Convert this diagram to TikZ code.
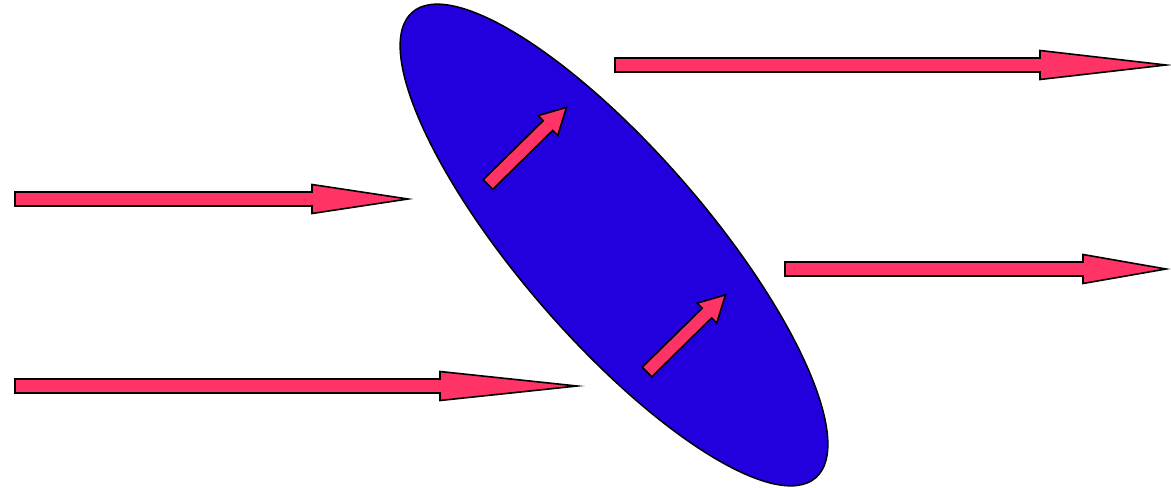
\documentclass[tikz,border=0pt]{standalone}
\usetikzlibrary{shapes.geometric}
\definecolor{lensblue}{HTML}{2200DD}
\definecolor{beampink}{HTML}{FF3366}
\tikzset{
  lens/.style={ellipse,draw=black,fill=lensblue,line width=0.75pt,inner sep=0pt},
  beamfill/.style={fill=beampink,draw=black,line width=0.8pt,line join=miter},
  % head start, tip, shaft half width, head half width
  pics/beam/.style n args={4}{code={
    \draw[beamfill] (0,-#3) -- (#1,-#3) -- (#1,-#4) -- (#2,0) -- (#1,#4) -- (#1,#3) -- (0,#3) -- cycle;
  }},
}

\begin{document}
\begin{tikzpicture}[x=0.5pt,y=0.5pt]
  \useasboundingbox (0,0) rectangle (1171,-487);

  \node[lens,rotate=-49.1,minimum width=308pt,minimum height=94pt] (lens) at (614,-245) {};

  % incoming beams
  \pic (inA) at (15,-199) {beam={297}{393}{7}{14.5}};
  \pic (inB) at (15,-386) {beam={425}{562}{7}{14.5}};

  % outgoing beams
  \pic (outA) at (615,-65) {beam={425}{551}{7}{14.5}};
  \pic (outB) at (785,-269) {beam={298}{381}{7}{14.5}};

  % dipoles inside the lens
  \pic[rotate=44.5] (dipA) at (488,-184.5) {beam={84}{110}{6.8}{14}};
  \pic[rotate=44.5] (dipB) at (647,-372) {beam={84}{110}{6.8}{14}};
\end{tikzpicture}
\end{document}
